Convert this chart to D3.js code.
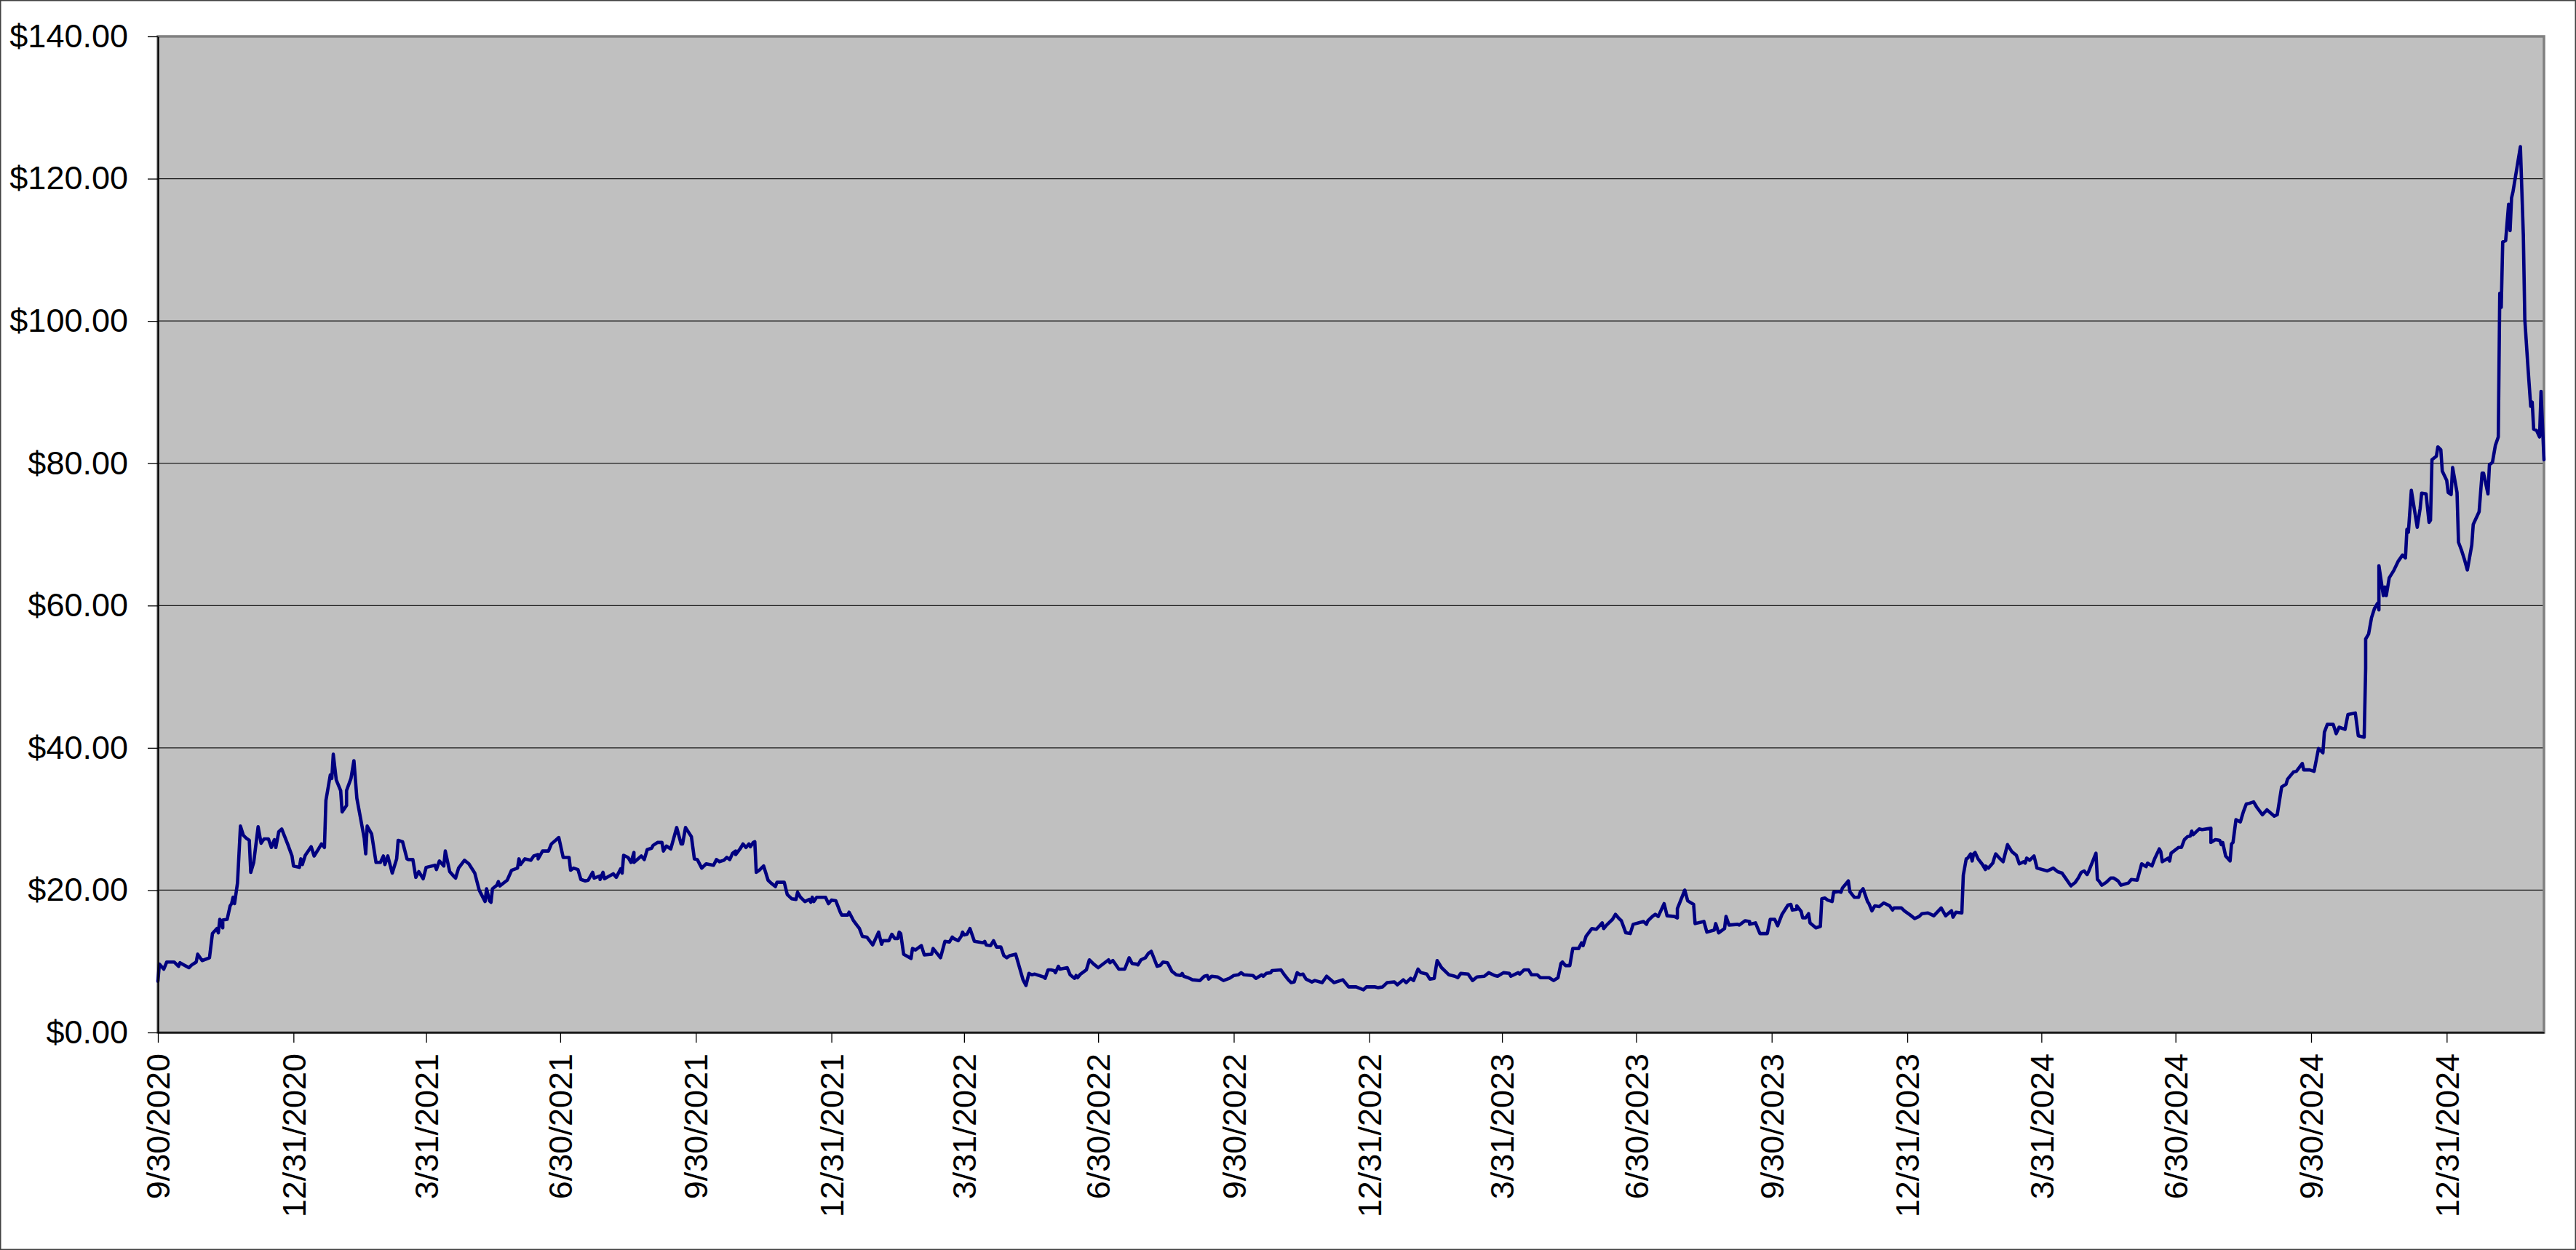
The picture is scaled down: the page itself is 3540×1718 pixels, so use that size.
<!DOCTYPE html>
<html>
<head>
<meta charset="utf-8">
<script src="https://cdn.jsdelivr.net/npm/d3@7"></script>
<style>
  html, body { margin: 0; padding: 0; background: #fff; }
  svg { display: block; }
</style>
</head>
<body>
<div id="chart"></div>
<script>
var
  START_DATE = "2020-09-30",
  END_DATE = "2025-03-07";

// days after START_DATE
var tradeDays = [
  0,1,4,6,11,14,15,21,23,26,
  27,30,35,37,40,41,42,44,44,47,
  49,50,51,52,54,56,58,60,62,63,
  65,68,70,72,75,77,79,80,82,84,
  88,91,92,96,97,98,100,104,106,109,
  111,113,114,117,118,119,121,124,125,128,
  128,131,133,135,140,141,142,145,148,151,
  153,154,156,159,162,163,166,169,170,173,
  175,177,180,182,188,189,191,194,195,198,
  201,
  202,204,208,211,215,218,222,223,225,226,
  227,230,231,232,237,240,244,245,246,249,
  253,255,258,258,261,265,267,272,275,279,
  280,282,285,287,290,292,295,296,300,300,
  302,303,309,311,314,315,316,319,321,323,
  323,328,330,332,335,336,339,342,343,345,
  348,352,355,356,358,362,364,366,369,372,
  377,379,381,384,386,388,390,392,392,395,
  397,399,401,402,404,
  405,406,408,411,414,416,419,420,425,427,
  430,433,434,436,439,442,443,444,445,447,
  453,455,457,460,463,464,468,469,471,472,
  476,478,481,485,489,491,492,496,498,500,
  502,503,504,506,511,512,514,518,520,525,
  526,531,534,537,539,540,543,545,546,547,
  549,551,554,560,561,562,565,567,569,572,
  574,576,578,582,587,589,591,593,595,601,
  602,604,606,
  608,609,611,612,617,619,622,623,624,626,
  630,632,635,638,645,646,648,652,656,659,
  661,664,665,667,670,672,674,678,680,682,
  685,688,691,694,695,696,699,702,707,710,
  712,713,715,719,723,727,730,733,735,737,
  743,745,749,750,752,755,756,762,764,767,
  769,771,773,775,777,779,783,785,790,793,
  798,804,808,
  811,813,818,820,826,828,831,834,839,841,
  845,847,850,852,855,857,861,863,866,868,
  871,876,880,882,884,889,892,895,900,903,
  907,909,913,917,918,923,924,927,930,932,
  936,938,944,947,950,952,953,955,958,960,
  964,966,967,969,973,976,980,981,983,987,
  989,991,993,996,999,1001,1008,1010,1011,
  1014,1016,1018,1022,1024,1029,1031,1031,1036,1038,
  1042,1043,1049,1051,1056,1057,1059,1063,1064,1066,
  1072,1073,1077,1080,1080,1084,1087,1092,1094,1097,
  1099,1102,1106,1108,1109,1112,1112,1115,1116,1118,
  1120,1121,1125,1128,1129,1131,1133,1136,1137,1140,
  1142,1143,1147,1148,1151,1154,1155,1157,1160,1161,
  1163,1165,1168,1171,1175,1177,1178,1183,1185,1189,
  1192,1195,1197,1201,1205,1210,
  1213,1217,1218,1220,1224,1225,1227,1228,1230,1231,
  1232,1233,1235,1238,1240,1240,1242,1245,1246,1247,
  1250,1252,1255,1258,1261,1263,1266,1267,1268,1270,
  1273,1275,1282,1284,1286,1289,1292,1294,1298,1301,
  1303,1305,1307,1309,1310,1315,1316,1317,1319,1322,
  1325,1327,1330,1332,1337,1339,1343,1346,1349,1350,
  1353,1355,1358,1359,1360,1364,1365,1366,1371,1373,
  1375,1377,1379,1380,1381,1385,1387,1393,1393,1396,
  1399,1400,1401,1403,1406,1407,1408,1410,1413,1415,
  1417,1419,1422,1424,1428,1431,1436,1438,1441,1444,
  1445,1449,1451,1455,1456,1460,1463,1466,1469,1470,
  1472,1476,1478,1480,1484,1486,1491,1493,1497,1498,
  1498,1500,1502,1504,1506,1507,1507,1510,1511,1512,
  1514,1517,1520,1523,1525,1526,1527,1529,1533,1535,
  1536,1539,1541,1542,1543,1546,1547,1549,1550,1553,
  1554,1556,1557,1560,1561,1563,1565,1567,1570,1571,
  1575,1577,1578,1581,1582,1584,1586,1588,1589,1590,
  1591,1593,1595,1596,1597,1598,1603,1605,1606,1608,
  1610,1611,1612,1614,1616,1617,1619
];

var closePrices = [
  7.2,9.6,8.9,9.9,9.9,9.3,9.8,9.1,9.5,9.9,
  11.0,10.1,10.5,13.9,14.6,14.0,15.9,14.7,15.8,15.9,
  17.8,18.1,19.0,18.1,21.0,29.0,27.7,27.3,27.0,22.5,
  23.9,28.9,26.6,27.2,27.2,26.0,27.1,26.0,28.2,28.6,
  26.5,24.8,23.4,23.2,24.4,23.6,24.9,26.1,24.8,25.8,
  26.5,26.0,32.6,36.2,35.7,39.1,35.5,34.0,31.0,31.9,
  34.0,35.7,38.2,32.9,27.3,25.1,29.0,27.9,23.9,23.9,
  24.8,23.6,24.8,22.4,24.4,27.0,26.8,24.4,24.3,24.3,
  21.8,22.6,21.6,23.2,23.5,22.9,24.1,23.4,25.5,22.6,
  21.9,
  21.7,23.1,24.2,23.7,22.4,20.0,18.4,20.2,18.5,18.3,
  20.2,20.7,21.2,20.6,21.4,22.8,23.1,24.4,23.6,24.4,
  24.2,24.8,25.0,24.4,25.5,25.5,26.5,27.4,24.6,24.6,
  22.8,23.1,22.9,21.5,21.3,21.4,22.5,21.7,22.0,21.5,
  22.5,21.6,22.3,21.8,23.0,22.4,24.9,24.6,23.9,25.3,
  23.9,24.8,24.3,25.7,25.9,26.3,26.7,26.7,25.5,26.2,
  25.8,28.8,26.5,26.5,28.8,27.5,24.4,24.3,23.1,23.7,
  23.5,24.3,24.0,24.2,24.6,24.3,25.2,25.5,25.0,25.8,
  26.5,26.0,26.5,26.1,26.7,
  26.8,22.5,22.8,23.4,21.4,21.0,20.5,21.1,21.1,19.4,
  18.8,18.7,19.7,19.0,18.4,18.7,18.3,19.0,18.4,19.0,
  19.0,18.1,18.6,18.5,16.9,16.5,16.5,16.9,16.1,15.7,
  14.6,13.5,13.4,12.3,14.1,12.4,12.9,12.9,13.8,13.2,
  13.2,14.1,13.9,11.0,10.4,11.8,11.6,12.2,10.9,11.0,
  11.8,10.5,12.8,12.7,13.4,13.2,12.9,13.5,14.1,13.7,
  13.8,14.6,12.8,12.6,12.8,12.3,12.2,12.9,12.0,12.0,
  10.8,10.5,10.8,11.0,7.4,6.6,8.3,8.1,8.2,7.8,
  7.6,8.8,8.8,
  8.7,8.4,9.3,8.9,9.1,8.1,7.6,8.0,7.7,8.2,
  8.8,10.2,9.6,9.1,10.2,9.8,10.1,8.9,8.9,10.5,
  9.7,9.6,9.5,10.2,10.5,11.1,11.4,9.3,9.4,9.9,
  9.8,8.6,8.1,8.0,8.3,7.9,7.7,7.4,7.3,7.9,
  8.0,7.5,7.9,7.8,7.3,7.6,8.0,8.1,8.4,8.1,
  8.0,7.6,8.1,7.9,8.3,8.4,8.7,8.8,8.2,7.4,
  7.0,7.1,8.4,8.1,8.2,7.5,7.1,7.3,7.0,7.9,
  7.0,7.4,6.4,
  6.4,6.4,6.0,6.4,6.4,6.3,6.4,7.0,7.1,6.7,
  7.4,7.0,7.6,7.3,8.9,8.4,8.2,7.5,7.6,10.1,
  9.1,8.1,7.9,7.7,8.3,8.2,7.3,7.8,7.9,8.4,
  8.0,7.9,8.4,8.3,7.9,8.4,8.2,8.8,8.8,8.1,
  8.1,7.7,7.7,7.3,7.7,9.7,9.9,9.4,9.4,11.8,
  11.8,12.6,12.2,13.5,14.6,14.5,15.4,14.6,15.1,15.9,
  16.6,16.1,15.7,14.0,13.9,15.2,15.6,15.2,15.7,
  16.3,16.6,16.3,18.1,16.4,16.3,16.1,17.4,20.0,18.5,
  18.0,15.3,15.6,14.1,14.4,15.3,14.0,14.6,16.3,15.1,
  15.2,15.1,15.7,15.6,15.2,15.4,13.9,13.9,15.9,15.9,
  15.0,16.6,17.9,18.0,17.2,17.3,17.8,17.0,16.1,16.1,
  16.7,15.4,14.7,14.9,18.8,18.9,18.6,18.4,19.7,19.8,
  19.7,20.3,21.3,19.8,19.0,19.0,19.7,20.2,18.4,18.1,
  17.1,17.8,17.7,18.2,17.8,17.2,17.5,17.5,17.1,16.5,
  16.0,16.3,16.7,16.8,16.4,17.5,
  16.4,17.1,16.2,16.9,16.8,22.1,24.4,24.5,25.1,24.1,
  25.1,25.3,24.4,23.6,22.9,23.4,23.1,23.8,24.5,25.1,
  24.4,24.0,26.4,25.4,24.9,23.7,24.0,23.8,24.5,24.2,
  24.8,23.1,22.7,22.9,23.1,22.6,22.4,21.8,20.6,21.1,
  21.7,22.5,22.7,22.2,22.6,25.2,21.5,21.3,20.7,21.1,
  21.7,21.7,21.3,20.7,21.0,21.5,21.4,23.7,23.3,23.8,
  23.4,24.5,25.8,25.4,24.0,24.5,24.1,25.2,26.0,26.0,
  27.1,27.5,27.6,28.3,27.8,28.6,28.5,28.7,26.7,27.1,
  27.0,26.4,26.7,24.8,24.1,26.5,26.7,29.9,29.6,31.0,
  32.1,32.2,32.4,31.7,30.6,31.3,30.4,30.6,34.5,34.9,
  35.6,36.6,36.7,37.8,36.9,36.9,36.7,39.9,39.3,42.2,
  43.3,43.3,42.0,42.9,42.6,44.7,44.9,41.7,41.5,51.2,
  55.3,56.0,58.3,59.6,60.3,59.4,65.6,61.4,62.6,61.4,
  63.9,64.9,66.2,67.1,66.7,70.7,70.3,76.2,71.0,73.7,
  75.8,75.7,71.7,72.0,80.5,81.0,82.3,81.9,78.9,77.6,
  75.9,75.6,79.4,75.9,68.9,67.8,66.5,65.0,68.5,71.4,
  73.2,78.6,78.6,75.7,79.8,80.1,82.5,83.7,103.9,101.9,
  111.1,111.3,116.4,112.7,117.3,118.2,124.5,112.0,100.2,93.9,
  88.0,88.6,84.8,84.6,83.7,90.1,80.5
];

var quarterLabels = [
  "9/30/2020", "12/31/2020", "3/31/2021", "6/30/2021", "9/30/2021",
  "12/31/2021", "3/31/2022", "6/30/2022", "9/30/2022", "12/31/2022",
  "3/31/2023", "6/30/2023", "9/30/2023", "12/31/2023", "3/31/2024",
  "6/30/2024", "9/30/2024", "12/31/2024"
];

var priceTicks = [0, 20, 40, 60, 80, 100, 120, 140];

var
  WIDTH = 3540,
  HEIGHT = 1718,
  PLOT_LEFT = 217,
  PLOT_RIGHT = 3496,
  PLOT_TOP = 50,
  PLOT_BOTTOM = 1419,
  FONT = "'Liberation Sans', Arial, sans-serif",
  FONT_SIZE = 45,
  LINE_COLOR = "#000080",
  PLOT_COLOR = "#c0c0c0";

var
  parseIso = d3.utcParse("%Y-%m-%d"),
  parseLabel = d3.utcParse("%m/%d/%Y"),
  startDate = parseIso(START_DATE),
  endDate = parseIso(END_DATE);

var points = tradeDays.map(function(day, i){
  return { date: d3.utcDay.offset(startDate, day), value: closePrices[i] };
});

var quarterDates = quarterLabels.map(parseLabel);

var x = d3.scaleUtc()
  .domain([startDate, endDate])
  .range([PLOT_LEFT, PLOT_RIGHT]);

var y = d3.scaleLinear()
  .domain([0, 140])
  .range([PLOT_BOTTOM, PLOT_TOP]);

var svg = d3.select("#chart").append("svg")
  .attr("width", WIDTH)
  .attr("height", HEIGHT);

// outer frame
svg.append("rect")
  .attr("x", 0.75).attr("y", 0.75)
  .attr("width", WIDTH - 1.5).attr("height", HEIGHT - 1.5)
  .attr("fill", "#fff")
  .attr("stroke", "#404040")
  .attr("stroke-width", 1.5);

svg.append("rect")
  .attr("x", PLOT_LEFT).attr("y", PLOT_TOP)
  .attr("width", PLOT_RIGHT - PLOT_LEFT)
  .attr("height", PLOT_BOTTOM - PLOT_TOP)
  .attr("fill", PLOT_COLOR);

svg.append("g")
  .selectAll("line")
  .data(priceTicks.slice(1, -1))
  .join("line")
    .attr("x1", PLOT_LEFT).attr("x2", PLOT_RIGHT)
    .attr("y1", function(d){ return y(d); })
    .attr("y2", function(d){ return y(d); })
    .attr("stroke", "#1a1a1a")
    .attr("stroke-width", 1.3);

svg.append("rect")
  .attr("x", PLOT_LEFT).attr("y", PLOT_TOP)
  .attr("width", PLOT_RIGHT - PLOT_LEFT)
  .attr("height", PLOT_BOTTOM - PLOT_TOP)
  .attr("fill", "none")
  .attr("stroke", "#808080")
  .attr("stroke-width", 3.5);

var line = d3.line()
  .x(function(d){ return x(d.date); })
  .y(function(d){ return y(d.value); });

svg.append("path")
  .datum(points)
  .attr("d", line)
  .attr("fill", "none")
  .attr("stroke", LINE_COLOR)
  .attr("stroke-width", 4.6)
  .attr("stroke-linejoin", "round")
  .attr("stroke-linecap", "round");

function styleAxis(g){
  g.attr("font-family", FONT).attr("font-size", FONT_SIZE);
  g.select(".domain").attr("stroke", "#000").attr("stroke-width", 2.2);
  g.selectAll(".tick line").attr("stroke", "#000").attr("stroke-width", 1.3);
  g.selectAll(".tick text").attr("fill", "#000");
}

var yAxis = d3.axisLeft(y)
  .tickValues(priceTicks)
  .tickFormat(d3.format("$.2f"))
  .tickSize(14)
  .tickSizeOuter(0)
  .tickPadding(27);

svg.append("g")
  .attr("transform", "translate(" + PLOT_LEFT + ",0)")
  .call(yAxis)
  .call(styleAxis);

var xAxis = d3.axisBottom(x)
  .tickValues(quarterDates)
  .tickFormat(function(d, i){ return quarterLabels[i]; })
  .tickSize(14)
  .tickSizeOuter(0);

svg.append("g")
  .attr("transform", "translate(0," + PLOT_BOTTOM + ")")
  .call(xAxis)
  .call(styleAxis)
  .selectAll(".tick text")
    .attr("transform", "rotate(-90)")
    .attr("text-anchor", "end")
    .attr("x", -29)
    .attr("y", 0)
    .attr("dy", "0.35em");
</script>
</body>
</html>
